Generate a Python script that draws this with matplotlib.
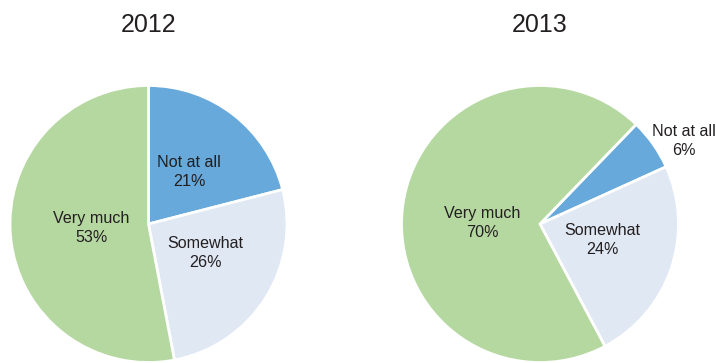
import matplotlib.pyplot as plt

plt.rcParams['font.family'] = ['Liberation Sans', 'DejaVu Sans']

years = ["2012", "2013"]
categories = ["Not at all", "Somewhat", "Very much"]
shares_2012 = [21, 26, 53]
shares_2013 = [6, 24, 70]
colors = ["#66a9da", "#e0e8f4", "#b5d8a1"]

fig = plt.figure(figsize=(7.16, 3.63), dpi=100)
ax = fig.add_axes([0, 0, 1, 1])

# pie centres / radius in pixel units of the canvas
pies = [
    (shares_2012, (148.5, 139), 90),
    (shares_2013, (540, 139), 46),
]
label_pos = [
    [(189, 191), (205, 110), (91, 135)],
    [(684, 222), (602, 123), (482, 140)],
]

for (shares, center, start), pos in zip(pies, label_pos):
    ax.pie(shares, colors=colors, startangle=start, counterclock=False,
           center=center, radius=138.5,
           wedgeprops=dict(edgecolor="white", linewidth=2))
    for cat, val, (x, y) in zip(categories, shares, pos):
        ax.text(x, y, f"{cat}\n{val}%", ha="center", va="center",
                fontsize=11.6, color="#231f20", linespacing=1.32)

for year, (_, center, _) in zip(years, pies):
    ax.text(center[0], 363 - 25, year, ha="center", va="center",
            fontsize=18, color="#231f20")

ax.set_xlim(0, 716)
ax.set_ylim(0, 363)
ax.set_aspect("equal")
ax.axis("off")

fig.savefig("out.png", dpi=100)
